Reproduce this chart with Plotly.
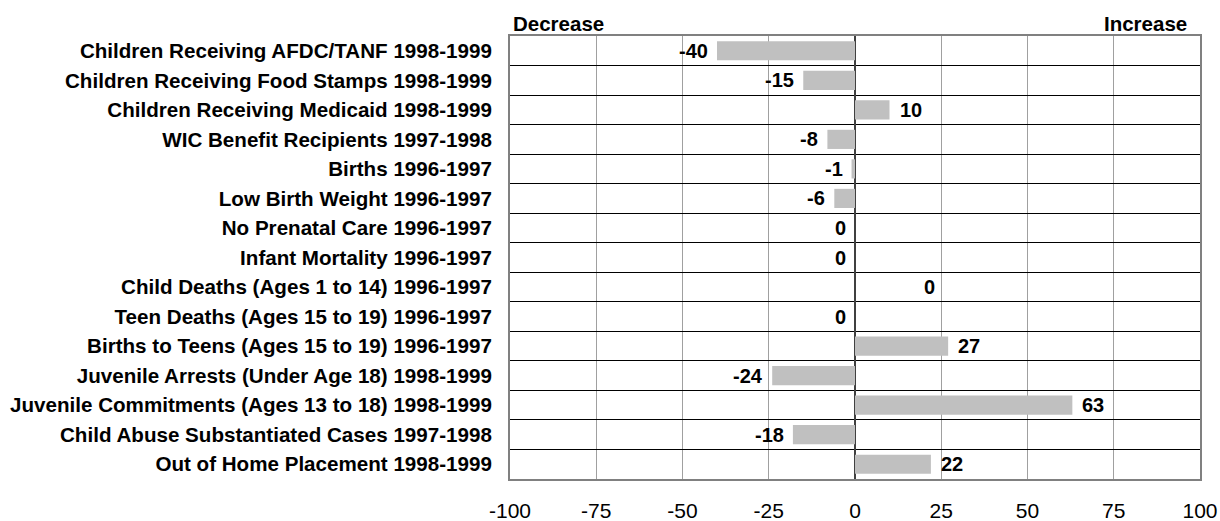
import plotly.graph_objects as go

categories = [
    "Children Receiving AFDC/TANF 1998-1999",
    "Children Receiving Food Stamps 1998-1999",
    "Children Receiving Medicaid 1998-1999",
    "WIC Benefit Recipients 1997-1998",
    "Births 1996-1997",
    "Low Birth Weight 1996-1997",
    "No Prenatal Care 1996-1997",
    "Infant Mortality 1996-1997",
    "Child Deaths (Ages 1 to 14) 1996-1997",
    "Teen Deaths (Ages 15 to 19) 1996-1997",
    "Births to Teens (Ages 15 to 19) 1996-1997",
    "Juvenile Arrests (Under Age 18) 1998-1999",
    "Juvenile Commitments (Ages 13 to 18) 1998-1999",
    "Child Abuse Substantiated Cases 1997-1998",
    "Out of Home Placement 1998-1999",
]
values = [-40, -15, 10, -8, -1, -6, 0, 0, 0, 0, 27, -24, 63, -18, 22]
x_ticks = [-100, -75, -50, -25, 0, 25, 50, 75, 100]

fig = go.Figure()
fig.add_trace(go.Bar(
    x=values, y=categories, orientation="h",
    marker=dict(color="#C0C0C0", line=dict(width=0)),
    width=0.65, hoverinfo="skip",
))

label_font = dict(family="Liberation Sans, Arial, sans-serif", size=20, color="black")
for cat, v in zip(categories, values):
    shift = 8 if v > 0 else -7
    anchor = "left" if v > 0 else "right"
    if cat.startswith("Child Deaths"):
        anchor = "right"
        shift = 82
    fig.add_annotation(
        x=v, y=cat, text=f"<b>{v}</b>", showarrow=False,
        xanchor=anchor, yanchor="middle", xshift=shift, font=label_font,
    )

head_font = dict(family="Liberation Sans, Arial, sans-serif", size=20.5, color="black")
fig.add_annotation(x=0, y=1, xref="paper", yref="paper", text="<b>Decrease</b>",
                   showarrow=False, xanchor="left", yanchor="bottom", xshift=1, yshift=-1, font=head_font)
fig.add_annotation(x=1, y=1, xref="paper", yref="paper", text="<b>Increase</b>",
                   showarrow=False, xanchor="right", yanchor="bottom", xshift=-11, yshift=-1, font=head_font)

fig.update_layout(
    width=1220, height=521,
    margin=dict(l=510, r=20, t=35.5, b=42, pad=0),
    paper_bgcolor="white", plot_bgcolor="white",
    showlegend=False, bargap=0.35,
    xaxis=dict(
        range=[-100, 100], tickvals=x_ticks, ticktext=[str(t) for t in x_ticks],
        showgrid=True, gridcolor="#A0A0A0", gridwidth=1,
        zeroline=True, zerolinecolor="#404040", zerolinewidth=1.5,
        showline=True, linecolor="#808080", linewidth=2, mirror=True,
        ticks="", ticklabelstandoff=12, automargin=False,
        tickfont=dict(family="Liberation Sans, Arial, sans-serif", size=21, color="black"),
        fixedrange=True,
    ),
    yaxis=dict(
        type="category", categoryorder="array", categoryarray=categories,
        autorange="reversed", tickson="boundaries",
        showgrid=True, gridcolor="black", gridwidth=1,
        showline=True, linecolor="#808080", linewidth=2, mirror=True,
        ticks="", ticklabelstandoff=12, automargin=False,
        tickfont=dict(family="Liberation Sans, Arial, sans-serif", size=20.6, color="black"),
        tickprefix="<b>", ticksuffix="</b>",
        fixedrange=True,
    ),
)

fig.write_html(
    "out.html",
    config={"displayModeBar": False},
    post_script="document.body.style.margin='0';document.body.style.overflow='hidden';",
)
